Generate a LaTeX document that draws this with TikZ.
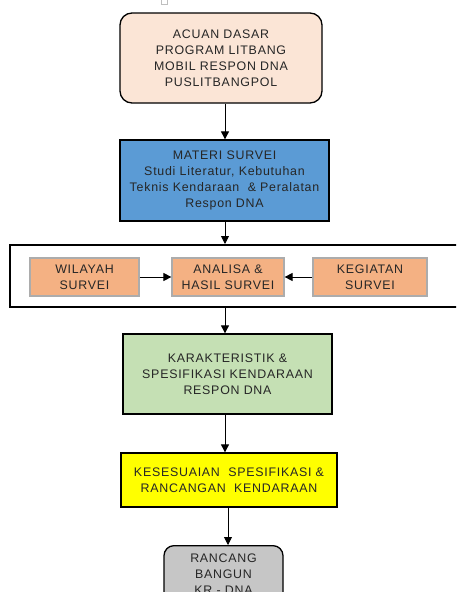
\documentclass[tikz,border=0pt]{standalone}
\usepackage{fontspec}
\setmainfont{Liberation Sans}[LetterSpace=6]
\usetikzlibrary{arrows.meta}
\definecolor{peach}{HTML}{FBE5D6}
\definecolor{bluebox}{HTML}{5B9BD5}
\definecolor{orangebox}{HTML}{F4B183}
\definecolor{greenbox}{HTML}{C5E0B4}
\definecolor{yellowbox}{HTML}{FFFF00}
\definecolor{graybox}{HTML}{C6C6C6}
\definecolor{txt}{HTML}{262626}
\tikzset{
  base/.style={draw=black, line width=1.3pt, align=center, text=txt, inner sep=2pt,
    font=\fontsize{12.4}{16}\selectfont},
  roundbox/.style={base, rounded corners=12pt},
  sqbox/.style={base},
  smallbox/.style={base, draw=gray!65, line width=1.2pt, fill=orangebox},
  arr/.style={-{Triangle[width=8pt,length=8pt]}, line width=0.9pt, black},
}
\begin{document}
\begin{tikzpicture}[x=1pt,y=-1pt]
\useasboundingbox (0,0) rectangle (456,592);
\clip (0,0) rectangle (456,592);
\fill[white] (0,0) rectangle (456,592);
\draw[gray!50, line width=0.6pt] (161,-1) rectangle (167,4);
\node[roundbox, fill=peach, minimum width=202pt, minimum height=90pt] (b1) at (221,58)
  {ACUAN DASAR\\PROGRAM LITBANG\\MOBIL RESPON DNA\\PUSLITBANGPOL};
\node[sqbox, fill=bluebox, text=black!85, minimum width=209pt, minimum height=81pt] (b2) at (224.5,180.5)
  {MATERI SURVEI\\Studi Literatur, Kebutuhan\\Teknis Kendaraan \ \& Peralatan\\Respon DNA};
\node[draw=black, line width=2pt, minimum width=470pt, minimum height=62pt, inner sep=0pt] (fr) at (245,276) {};
\node[smallbox, minimum width=109pt, minimum height=38pt] (w) at (84.5,277) {WILAYAH\\SURVEI};
\node[smallbox, minimum width=112pt, minimum height=38pt] (a) at (228,277) {ANALISA \&\\HASIL SURVEI};
\node[smallbox, minimum width=114pt, minimum height=38pt] (k) at (370,277) {KEGIATAN\\SURVEI};
\node[sqbox, fill=greenbox, minimum width=209pt, minimum height=80pt] (g) at (227.5,374)
  {KARAKTERISTIK \&\\SPESIFIKASI KENDARAAN\\RESPON DNA};
\node[sqbox, fill=yellowbox, minimum width=216pt, minimum height=54pt] (y) at (229,480)
  {KESESUAIAN \ SPESIFIKASI \&\\RANCANGAN \ KENDARAAN};
\node[roundbox, rounded corners=10pt, fill=graybox, minimum width=119pt, minimum height=57pt, anchor=north] (r) at (223.5,545)
  {RANCANG\\BANGUN\\KR - DNA};
\coordinate (ax) at (225,0);
\coordinate (bx) at (228,0);
\draw[arr] (b1.south -| ax) -- (b2.north -| ax);
\draw[arr] (b2.south -| ax) -- (fr.north -| ax);
\draw[arr] (w.east) -- (a.west);
\draw[arr] (k.west) -- (a.east);
\draw[arr] (fr.south -| ax) -- (g.north -| ax);
\draw[arr] (g.south -| ax) -- (y.north -| ax);
\draw[arr] (y.south -| bx) -- (r.north -| bx);
\end{tikzpicture}
\end{document}
